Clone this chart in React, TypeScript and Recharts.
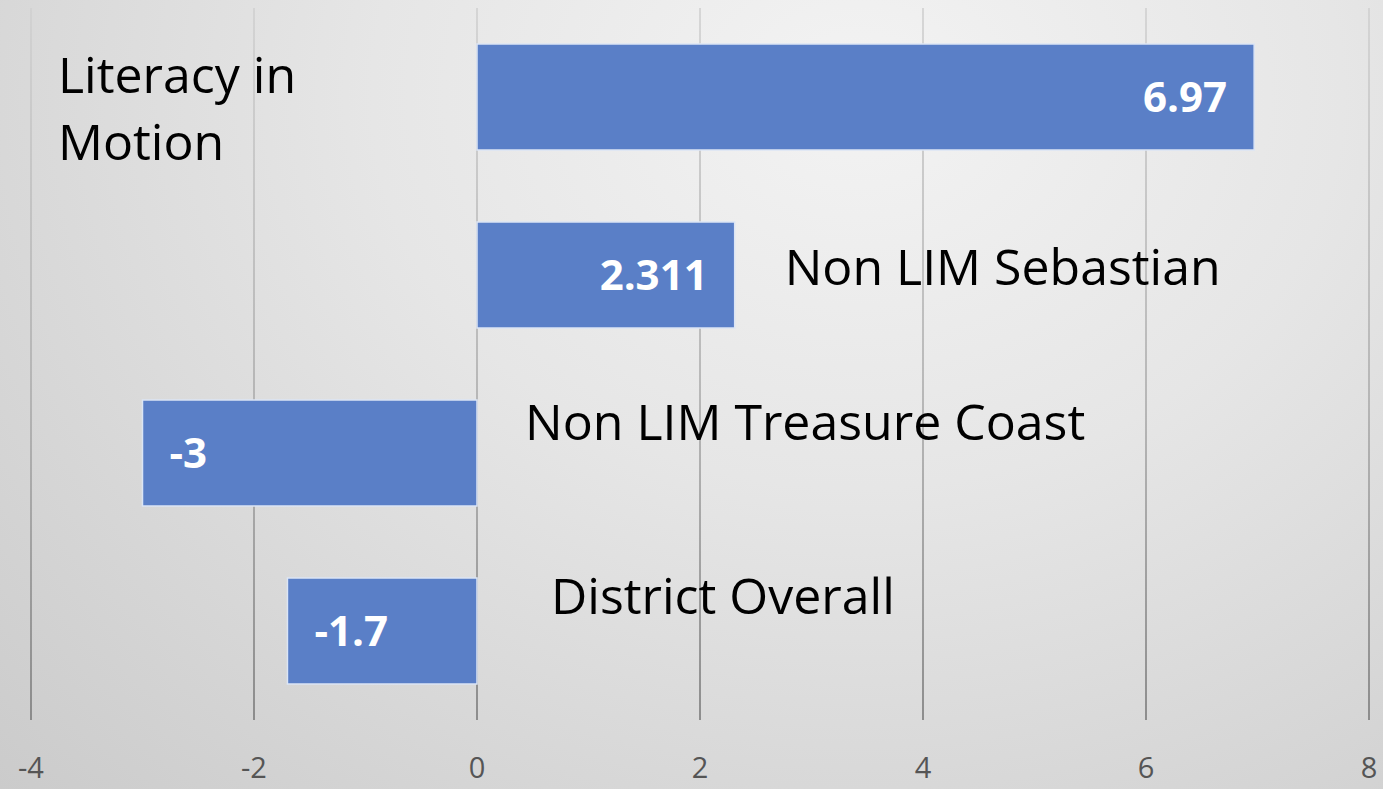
import React from "react";
import { BarChart, Bar, XAxis, YAxis, CartesianGrid, LabelList } from "recharts";

const categories = ["Literacy in Motion", "Non LIM Sebastian", "Non LIM Treasure Coast", "District Overall"];
const values = [6.97, 2.311, -3, -1.7];
const xTicks = [-4, -2, 0, 2, 4, 6, 8];

// where each category name sits, relative to the bar (zero line or bar end)
const nameLayout = [
  { anchor: "zero", dx: -419, dy: -4, wrapAfter: 2 },
  { anchor: "end", dx: 50, dy: 10, wrapAfter: 0 },
  { anchor: "zero", dx: 48, dy: -13, wrapAfter: 0 },
  { anchor: "zero", dx: 74, dy: -17, wrapAfter: 0 },
];

const FONT = "'Open Sans', 'Noto Sans', sans-serif";
const BAR_COLOR = "#5a7fc7";

const data = categories.map((name, i) => ({ name, value: values[i] }));

const ValueLabel = (props: any) => {
  const { x, y, width, height, value } = props;
  const left = Math.min(x, x + width);
  const right = Math.max(x, x + width);
  const pos = value >= 0;
  return (
    <text
      x={pos ? right - 27 : left + 27}
      y={y + height / 2}
      dy="0.36em"
      textAnchor={pos ? "end" : "start"}
      fill="#ffffff"
      fontFamily={FONT}
      fontWeight={700}
      fontSize={42}
    >
      {value}
    </text>
  );
};

const NameLabel = (props: any) => {
  const { x, y, width, height, value, index } = props;
  const v = values[index];
  const left = Math.min(x, x + width);
  const right = Math.max(x, x + width);
  const zero = v >= 0 ? left : right;
  const end = v >= 0 ? right : left;
  const lay = nameLayout[index];
  const baseX = (lay.anchor === "end" ? end : zero) + lay.dx;
  const baseY = y + height / 2 + lay.dy;
  const words = String(value).split(" ");
  const lines = lay.wrapAfter > 0
    ? [words.slice(0, lay.wrapAfter).join(" "), words.slice(lay.wrapAfter).join(" ")]
    : [String(value)];
  return (
    <text x={baseX} y={baseY} fill="#000000" fontFamily={FONT} fontSize={50}>
      {lines.map((l, i) => (
        <tspan key={i} x={baseX} dy={i === 0 ? 0 : 67}>
          {l}
        </tspan>
      ))}
    </text>
  );
};

const AxisTick = (props: any) => {
  const { x, payload } = props;
  return (
    <text x={x} y={778} textAnchor="middle" fill="#555555" fontFamily={FONT} fontSize={29}>
      {payload.value}
    </text>
  );
};

export default function App() {
  return (
    <div
      style={{
        position: "absolute",
        left: 0,
        top: 0,
        width: 1383,
        height: 789,
        background:
          "radial-gradient(ellipse at 62% 12%, #f3f3f3 0%, #e6e6e6 40%, #d6d6d6 75%, #cbcbcb 100%)",
      }}
    >
      <BarChart
        width={1383}
        height={789}
        data={data}
        layout="vertical"
        margin={{ top: 8, right: 14, bottom: 0, left: 31 }}
      >
        <defs>
          <linearGradient id="gridGrad" gradientUnits="userSpaceOnUse" x1="0" y1="8" x2="0" y2="720">
            <stop offset="0%" stopColor="#d0d0d0" />
            <stop offset="55%" stopColor="#ababab" />
            <stop offset="100%" stopColor="#7a7a7a" />
          </linearGradient>
        </defs>
        <CartesianGrid horizontal={false} stroke="url(#gridGrad)" strokeWidth={1.6} />
        <XAxis
          type="number"
          domain={[-4, 8]}
          ticks={xTicks}
          axisLine={false}
          tickLine={false}
          height={69}
          tick={AxisTick}
        />
        <YAxis type="category" dataKey="name" hide />
        <Bar
          dataKey="value"
          fill={BAR_COLOR}
          stroke="#dbe5f5"
          strokeWidth={1.5}
          barSize={106}
          isAnimationActive={false}
        >
          <LabelList dataKey="value" content={ValueLabel} />
          <LabelList dataKey="name" content={NameLabel} />
        </Bar>
      </BarChart>
    </div>
  );
}
